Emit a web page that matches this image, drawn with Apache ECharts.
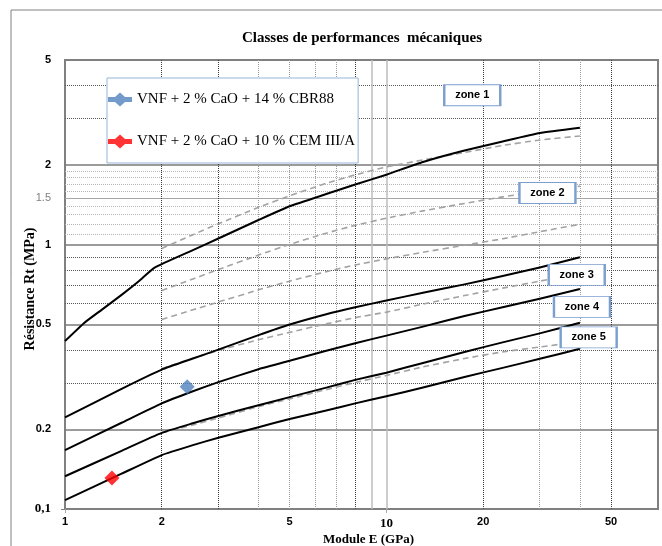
<!DOCTYPE html>
<html>
<head>
<meta charset="utf-8">
<script src="https://cdn.jsdelivr.net/npm/echarts@6/dist/echarts.min.js"></script>
<style>html,body{margin:0;padding:0;background:#fff}#c{width:662px;height:546px}</style>
</head>
<body>
<div id="c"></div>
<script>
// ---- data ----
const titleText = 'Classes de performances  mécaniques';
const xName = 'Module E (GPa)';
const yName = 'Résistance Rt (MPa)';
const xTickValues = [1, 2, 5, 10, 20, 50];
const xTickTexts = ['1', '2', '5', '10', '20', '50'];
const yTickValues = [0.1, 0.2, 0.5, 1, 1.5, 2, 5];
const yTickTexts = ['0,1', '0.2', '0.5', '1', '1.5', '2', '5'];

const xGridDark = [2, 3, 8, 20, 50];
const xGridLight = [4, 5, 6, 7, 30, 40];
const xGridSolid = [9, 10];
const yGridSolid = [0.2, 0.5, 1, 2];
const yGridSolidLight = [1.5];
const yGridDotted = [0.3, 0.4, 0.6, 0.7, 0.8, 0.9, 3, 4];
const yGridFine = [1.1, 1.2, 1.3, 1.4, 1.6, 1.7, 1.8, 1.9];

// zone boundary curves (solid black)
const curveA = [[1,0.432],[1.15,0.507],[1.3,0.567],[1.5,0.646],[1.7,0.729],[1.9,0.819],[2.5,0.954],[3,1.056],[4,1.24],[5,1.398],[6.5,1.555],[8,1.689],[10,1.841],[13,2.057],[17.5,2.273],[23,2.458],[30,2.646],[40,2.771]];
const curveB = [[1,0.222],[1.5,0.285],[2,0.337],[2.5,0.371],[3,0.401],[4,0.455],[5,0.499],[6.5,0.546],[8,0.58],[10,0.615],[13,0.658],[17.5,0.708],[23,0.762],[30,0.82],[40,0.896]];
const curveC = [[1,0.167],[1.5,0.212],[2,0.251],[2.5,0.279],[3,0.302],[4,0.338],[5,0.364],[6.5,0.397],[8,0.424],[10,0.453],[13,0.49],[17.5,0.537],[23,0.58],[30,0.625],[40,0.68]];
const curveD = [[1,0.133],[1.5,0.166],[2,0.194],[2.5,0.211],[3,0.225],[4,0.247],[5,0.265],[6.5,0.288],[8,0.308],[10,0.328],[13,0.357],[17.5,0.393],[23,0.427],[30,0.462],[40,0.507]];
const curveE = [[1,0.108],[1.5,0.136],[2,0.16],[2.5,0.1745],[3,0.186],[4,0.204],[5,0.219],[6.5,0.236],[8,0.251],[10,0.267],[13,0.288],[17.5,0.316],[23,0.342],[30,0.37],[40,0.404]];

// dashed grey curves
const dash1 = [[2,0.968],[2.5,1.091],[3,1.2],[4,1.385],[5,1.531],[6.5,1.707],[8,1.838],[10,1.97],[13,2.093],[17.5,2.234],[23,2.375],[30,2.49],[40,2.578]];
const dash2 = [[2,0.671],[2.5,0.742],[3,0.805],[4,0.914],[5,1.002],[6.5,1.106],[8,1.184],[10,1.26],[13,1.343],[17.5,1.433],[23,1.517],[30,1.592],[40,1.666]];
const dash3 = [[2,0.521],[2.5,0.567],[3,0.607],[4,0.675],[5,0.728],[6.5,0.791],[8,0.838],[10,0.884],[13,0.936],[17.5,0.996],[23,1.053],[30,1.12],[40,1.195]];
const dash4 = [[2,0.34],[2.5,0.372],[3,0.398],[4,0.437],[5,0.466],[6.5,0.502],[8,0.53],[10,0.556],[13,0.596],[17.5,0.642],[23,0.685],[30,0.728],[40,0.778]];
const dash5 = [[2,0.194],[2.5,0.208],[3,0.221],[4,0.244],[5,0.261],[6.5,0.283],[8,0.301],[10,0.32],[13,0.345],[17.5,0.371],[23,0.393],[30,0.41],[40,0.43]];

// measured points
const seriesNames = ['VNF + 2 % CaO + 14 % CBR88', 'VNF + 2 % CaO + 10 % CEM III/A'];
const pointCBR = [[2.4, 0.29]];
const pointCEM = [[1.4, 0.131]];

// zone labels
const zoneNames = ['zone 1', 'zone 2', 'zone 3', 'zone 4', 'zone 5'];
const zoneAnchors = [[18.5, 3.68], [31.7, 1.569], [39.1, 0.769], [40.6, 0.582], [42.6, 0.446]];

// ---- chart ----
const SERIF = 'Liberation Serif';
const SANS = 'Liberation Sans';
const chart = echarts.init(document.getElementById('c'));

function nearestIdx(arr, v) {
  let best = 0, bd = Infinity;
  arr.forEach((a, i) => { const d = Math.abs(Math.log(a) - Math.log(v)); if (d < bd) { bd = d; best = i; } });
  return best;
}
const vl = (vals, style) => vals.map(v => ({ xAxis: v, lineStyle: style }));
const hl = (vals, style) => vals.map(v => ({ yAxis: v, lineStyle: style }));

const darkDot = { color: '#3a3a3a', width: 1, type: 'dotted' };
const lightDot = { color: '#9a9a9a', width: 1, type: 'dotted' };
const solidLightV = { color: '#bdbdbd', width: 1.5, type: 'solid' };
const solidH = { color: '#7a7a7a', width: 1.5, type: 'solid' };
const solidLightH = { color: '#a6a6a6', width: 1, type: 'solid' };
const midDotH = { color: '#555', width: 1, type: 'dotted' };
const fineDotH = { color: '#b5b5b5', width: 1, type: 'dotted' };

const blackLine = (data) => ({
  type: 'line', data, symbol: 'none', smooth: 0.15, z: 3, silent: true,
  lineStyle: { color: '#000', width: 2, join: 'round' }
});
const dashLine = (data) => ({
  type: 'line', data, symbol: 'none', smooth: 0.15, z: 2, silent: true,
  lineStyle: { color: '#a3a3a3', width: 1.6, type: [6, 4] }
});

const legendIcon = 'path://M0,4.5 L7,4.5 L12,0 L17,4.5 L24,4.5 L24,9.5 L17,9.5 L12,14 L7,9.5 L0,9.5 Z';

const option = {
  animation: false,
  backgroundColor: '#fff',
  title: {
    text: titleText, left: 237, top: 26,
    textStyle: { fontFamily: SERIF, fontWeight: 'bold', fontSize: 15, color: '#000' }
  },
  legend: {
    data: seriesNames, orient: 'vertical', left: 107, top: 78, z: 20,
    itemWidth: 24, itemHeight: 14, itemGap: 27,
    padding: [14, 3, 14, 1],
    borderColor: '#95b3d7', borderWidth: 1, backgroundColor: '#fff',
    icon: legendIcon,
    textStyle: { fontFamily: SERIF, fontSize: 15, color: '#000' }
  },
  grid: {
    left: 65, right: 4, top: 60, bottom: 37, containLabel: false, outerBoundsMode: 'none',
    show: true, borderColor: '#808080', borderWidth: 2, backgroundColor: 'transparent'
  },
  xAxis: {
    type: 'log', logBase: 10, min: 1, max: 70,
    name: xName, nameLocation: 'middle', nameGap: 24, nameMoveOverlap: false,
    nameTextStyle: { fontFamily: SERIF, fontWeight: 'bold', fontSize: 13, color: '#000', padding: [0, 0, 0, 14] },
    axisLine: { lineStyle: { color: '#808080', width: 2 } },
    axisTick: { show: true, customValues: [1, 10], length: 4, lineStyle: { color: '#aaa' } },
    splitLine: { show: false }, minorSplitLine: { show: false },
    axisLabel: {
      customValues: xTickValues, margin: 7,
      formatter: v => {
        const i = nearestIdx(xTickValues, v);
        return xTickTexts[i] === '10' ? '{s|10}' : '{a|' + xTickTexts[i] + '}';
      },
      rich: {
        a: { fontFamily: SANS, fontWeight: 'bold', fontSize: 11, color: '#000' },
        s: { fontFamily: SERIF, fontWeight: 'bold', fontSize: 13, color: '#000', padding: [1, 0, 0, 0] }
      }
    }
  },
  yAxis: {
    type: 'log', logBase: 10, min: 0.1, max: 5,
    name: yName, nameLocation: 'middle', nameGap: 28, nameRotate: 90, nameMoveOverlap: false,
    nameTextStyle: { fontFamily: SERIF, fontWeight: 'bold', fontSize: 14, color: '#000', padding: [0, 9, 0, 0] },
    axisLine: { lineStyle: { color: '#808080', width: 2 } },
    axisTick: { show: true, customValues: [0.1], length: 4, lineStyle: { color: '#808080' } },
    splitLine: { show: false },
    axisLabel: {
      customValues: yTickValues, margin: 14,
      formatter: v => {
        const i = nearestIdx(yTickValues, v);
        const t = yTickTexts[i];
        if (t === '0,1') return '{s|' + t + '}';
        if (t === '1.5') return '{g|' + t + '}';
        return '{a|' + t + '}';
      },
      rich: {
        a: { fontFamily: SANS, fontWeight: 'bold', fontSize: 11, color: '#000' },
        g: { fontFamily: SANS, fontWeight: 'normal', fontSize: 11, color: '#808080' },
        s: { fontFamily: SERIF, fontWeight: 'bold', fontSize: 13, color: '#000' }
      }
    }
  },
  graphic: [{
    type: 'rect', shape: { x: 11, y: 10, width: 660, height: 560 },
    style: { fill: 'none', stroke: '#808080', lineWidth: 1 }, silent: true, z: -1
  }],
  series: [
    {
      type: 'line', name: 'grid', data: [], z: 1, silent: true,
      markLine: {
        silent: true, symbol: ['none', 'none'], label: { show: false }, animation: false, z: 1,
        data: [].concat(
          hl(yGridFine, fineDotH), hl(yGridDotted, midDotH), hl(yGridSolidLight, solidLightH), hl(yGridSolid, solidH),
          vl(xGridLight, lightDot), vl(xGridSolid, solidLightV), vl(xGridDark, darkDot)
        )
      }
    },
    blackLine(curveA), blackLine(curveB), blackLine(curveC), blackLine(curveD), blackLine(curveE),
    dashLine(dash1), dashLine(dash2), dashLine(dash3), dashLine(dash4), dashLine(dash5),
    {
      type: 'line', name: 'zones', data: [], z: 10, silent: true,
      markPoint: {
        silent: true, symbol: 'rect', symbolSize: [56, 21], animation: false, z: 10,
        itemStyle: { color: '#fff', borderColor: '#7c9fd0', borderWidth: 1.5 },
        label: { show: true, position: 'inside', formatter: p => p.name, fontFamily: SANS, fontWeight: 'bold', fontSize: 11, color: '#000' },
        data: zoneNames.map((n, i) => ({ name: n, coord: zoneAnchors[i] }))
      }
    },
    {
      type: 'scatter', name: seriesNames[0], data: pointCBR, symbol: 'diamond', symbolSize: 15, z: 6,
      itemStyle: { color: '#4f81bd' }
    },
    {
      type: 'scatter', name: seriesNames[1], data: pointCEM, symbol: 'diamond', symbolSize: 15, z: 6,
      itemStyle: { color: '#ff0000' }
    }
  ]
};
chart.setOption(option);
</script>
</body>
</html>
